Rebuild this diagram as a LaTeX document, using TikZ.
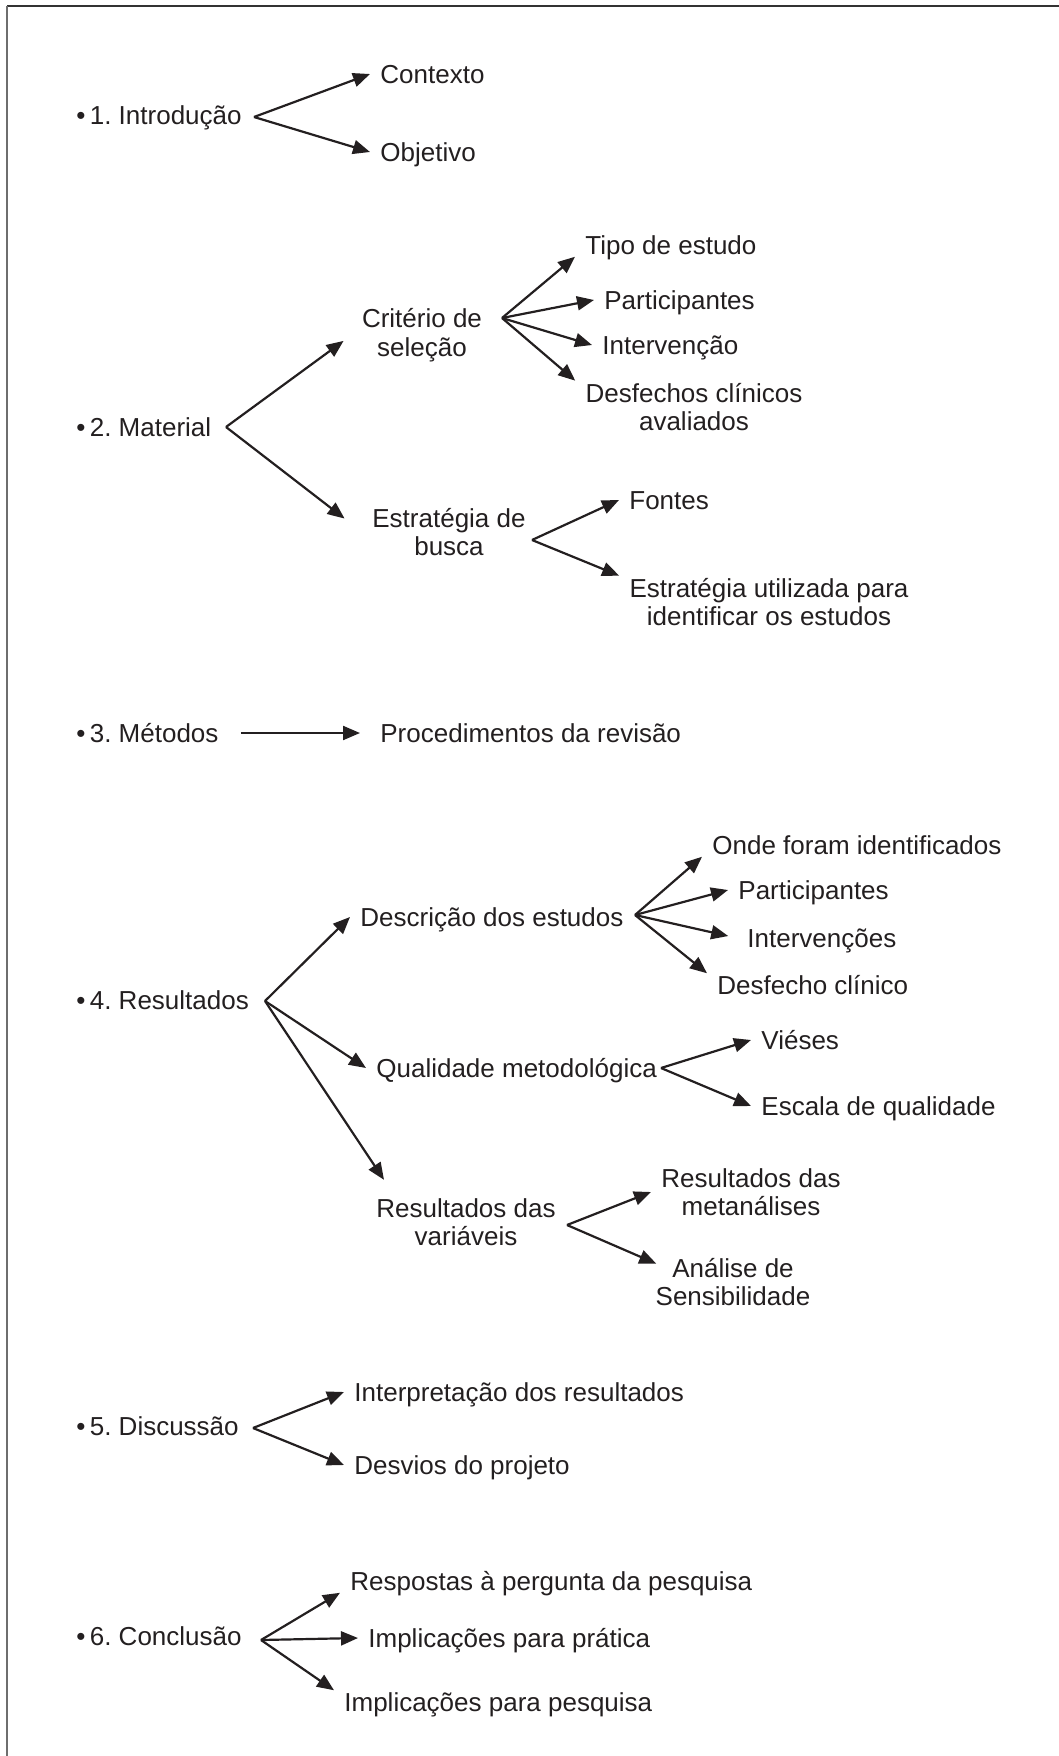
\documentclass[tikz,border=0pt]{standalone}
\usepackage{fontspec}
\setmainfont{Liberation Sans}
\frenchspacing
\definecolor{inkdark}{HTML}{231F20}
\definecolor{framedark}{HTML}{333333}
\definecolor{framegray}{HTML}{6E6E6E}
\usepackage{tikz}
\usetikzlibrary{
  arrows.meta,
  calc,
}

\begin{document}
\begin{tikzpicture}[
  x=0.5pt, y=-0.5pt,
  item/.style={
    anchor=west, inner xsep=5pt, inner ysep=1pt,
    text height=9.36pt, text depth=0pt,
    font=\fontsize{13pt}{14.25pt}\selectfont, text=inkdark,
  },
  block/.style={
    align=center, inner xsep=5pt, inner ysep=1pt,
    font=\fontsize{13pt}{14.25pt}\selectfont, text=inkdark,
  },
  link/.style={
    draw=inkdark, line width=1.1pt, -{Triangle[length=8.5pt, width=7pt]},
  },
]
  \useasboundingbox (0,0) rectangle (1059,1756);

  % Frame
  \draw[framedark, line width=1pt] (7,6) -- (1059,6);
  \draw[framegray, line width=1.1pt] (7,6) -- (7,1756);

  % 1. Introducao
  \node[item] (intro) at (66,115) {•\,1. Introdução};
  \node[item] (ctx) at (370,74) {Contexto};
  \node[item] (obj) at (370,152) {Objetivo};
  \coordinate (introfork) at (254,117);
  \draw[link] (introfork) -- (ctx.west);
  \draw[link] (introfork) -- (obj.west);

  % 2. Material
  \node[item] (mat) at (66,427) {•\,2. Material};
  \node[block] (crit) at (422,335) {Critério de\\seleção};
  \node[block] (busca) at (449,532) {Estratégia de\\busca};
  \coordinate (matfork) at (226,427);
  \draw[link, shorten >=5pt] (matfork) -- (crit.west);
  \draw[link, shorten >=11pt] (matfork) -- (busca.west);

  \node[item] (tipo) at (575,245) {Tipo de estudo};
  \node[item] (partA) at (594,300) {Participantes};
  \node[item] (interv) at (592,345) {Intervenção};
  \node[block] (desf) at (694,407) {Desfechos clínicos\\avaliados};
  \coordinate (critfork) at (502,318);
  \draw[link] (critfork) -- (tipo.south west);
  \draw[link] (critfork) -- (partA.west);
  \draw[link] (critfork) -- (interv.west);
  \draw[link] (critfork) -- (desf.north west);

  \node[item] (fontes) at (619,500) {Fontes};
  \node[block] (estrat) at (769,602) {Estratégia utilizada para\\identificar os estudos};
  \coordinate (buscafork) at (532,540);
  \draw[link] (buscafork) -- (fontes.west);
  \draw[link] (buscafork) -- (estrat.north west);

  % 3. Metodos
  \node[item] (metodos) at (66,733) {•\,3. Métodos};
  \node[item] (proc) at (370,733) {Procedimentos da revisão};
  \draw[link, shorten <=6pt, shorten >=5pt] (metodos.east) -- (proc.west);

  % 4. Resultados
  \node[item] (result) at (66,1000) {•\,4. Resultados};
  \node[item] (descr) at (350,917) {Descrição dos estudos};
  \node[item] (qual) at (366,1068) {Qualidade metodológica};
  \node[block] (resvar) at (466,1222) {Resultados das\\variáveis};
  \coordinate (resfork) at (265,1001);
  \draw[link] (resfork) -- (descr.west);
  \draw[link] (resfork) -- (qual.west);
  \draw[link] (resfork) -- ([xshift=9pt, yshift=8pt]resvar.north west);

  \node[item] (onde) at (702,845) {Onde foram identificados};
  \node[item] (partB) at (728,890) {Participantes};
  \node[item] (intervs) at (737,938) {Intervenções};
  \node[item] (desfB) at (707,985) {Desfecho clínico};
  \coordinate (descrfork) at (635,915);
  \draw[link] (descrfork) -- (onde.south west);
  \draw[link] (descrfork) -- (partB.west);
  \draw[link, shorten >=4.5pt] (descrfork) -- (intervs.west);
  \draw[link] (descrfork) -- (desfB.north west);

  \node[item] (vies) at (751,1040) {Viéses};
  \node[item] (escala) at (751,1106) {Escala de qualidade};
  \coordinate (qualfork) at (661,1068);
  \draw[link] (qualfork) -- (vies.west);
  \draw[link] (qualfork) -- (escala.west);

  \node[block] (meta) at (751,1192) {Resultados das\\metanálises};
  \node[block] (sens) at (733,1282) {Análise de\\Sensibilidade};
  \coordinate (resvarfork) at (567,1225);
  \draw[link] (resvarfork) -- (meta.west);
  \draw[link] (resvarfork) -- ([xshift=5.5pt, yshift=-4pt]sens.north west);

  % 5. Discussao
  \node[item] (disc) at (66,1426) {•\,5. Discussão};
  \node[item] (interp) at (344,1392) {Interpretação dos resultados};
  \node[item] (desv) at (344,1465) {Desvios do projeto};
  \coordinate (discfork) at (253,1428);
  \draw[link] (discfork) -- (interp.west);
  \draw[link] (discfork) -- (desv.west);

  % 6. Conclusao
  \node[item] (conc) at (66,1636) {•\,6. Conclusão};
  \node[item] (resp) at (340,1581) {Respostas à pergunta da pesquisa};
  \node[item] (prat) at (358,1638) {Implicações para prática};
  \node[item] (pesq) at (334,1702) {Implicações para pesquisa};
  \coordinate (concfork) at (261,1640);
  \draw[link] (concfork) -- (resp.south west);
  \draw[link] (concfork) -- (prat.west);
  \draw[link] (concfork) -- (pesq.north west);
\end{tikzpicture}
\end{document}
